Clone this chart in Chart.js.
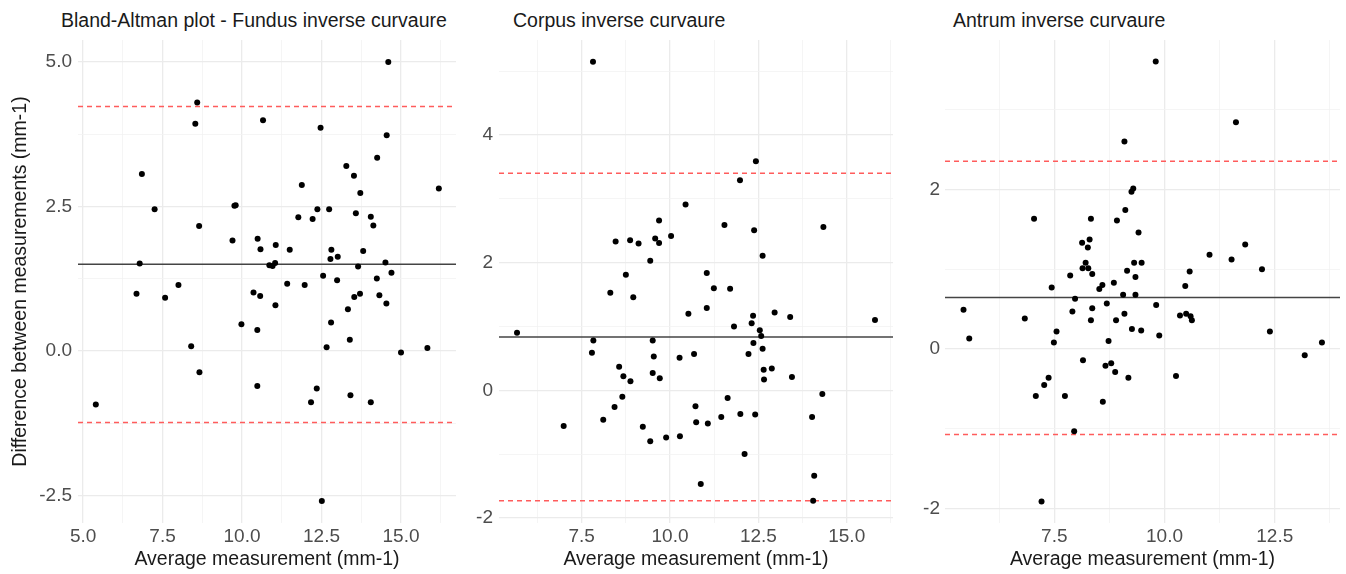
<!DOCTYPE html>
<html>
<head>
<meta charset="utf-8">
<title>Bland-Altman inverse curvature</title>
<script src="https://cdn.jsdelivr.net/npm/chart.js@4.4.1/dist/chart.umd.min.js"></script>
<style>
  body {
    margin: 0;
    background: #fff;
    width: 1346px;
    height: 574px;
    position: relative;
    overflow: hidden;
    font-family: "Liberation Sans", Arial, sans-serif;
  }
  canvas { position: absolute; top: 0; }
  .panel-title {
    position: absolute;
    top: 9px;
    font-size: 19.5px;
    color: #1a1a1a;
    white-space: nowrap;
  }
</style>
</head>
<body>

<div class="panel-title" style="left:61px">Bland-Altman plot - Fundus inverse curvaure</div>
<div class="panel-title" style="left:513px">Corpus inverse curvaure</div>
<div class="panel-title" style="left:953px">Antrum inverse curvaure</div>

<canvas id="fundusChart" width="460" height="574" style="left:0"></canvas>
<canvas id="corpusChart" width="440" height="574" style="left:460px"></canvas>
<canvas id="antrumChart" width="446" height="574" style="left:900px"></canvas>

<script>
// Bland-Altman data (average vs difference, mm-1)

const fundusAvg = [
  14.60, 8.59, 8.53, 10.66, 12.47, 14.55, 14.25, 13.28, 13.52, 6.85,
  11.88, 16.19, 13.72, 7.25, 9.76, 9.80, 12.37, 12.74, 11.77, 12.22,
  13.58, 14.05, 14.13, 8.65, 9.70, 10.49, 10.58, 11.06, 11.50, 12.81,
  13.81, 12.78, 13.01, 6.78, 10.86, 10.96, 11.04, 13.65, 14.51, 14.70,
  12.55, 12.99, 14.24, 8.00, 11.42, 11.97, 6.68, 7.58, 10.36, 10.57,
  11.05, 13.53, 13.71, 14.32, 14.54, 13.33, 9.98, 10.48, 12.80, 13.39,
  8.40, 12.66, 15.00, 15.83, 8.66, 10.48, 12.35, 12.17, 13.41, 14.05,
  5.40, 12.51
];
const fundusDiff = [
  5.00, 4.30, 3.93, 3.99, 3.86, 3.73, 3.34, 3.20, 3.03, 3.06,
  2.87, 2.81, 2.73, 2.45, 2.51, 2.52, 2.45, 2.45, 2.31, 2.28,
  2.38, 2.32, 2.17, 2.16, 1.91, 1.94, 1.76, 1.83, 1.75, 1.75,
  1.73, 1.59, 1.63, 1.51, 1.48, 1.47, 1.52, 1.46, 1.53, 1.35,
  1.30, 1.22, 1.25, 1.14, 1.16, 1.14, 0.99, 0.92, 1.01, 0.95,
  0.79, 0.93, 0.99, 0.96, 0.82, 0.72, 0.46, 0.36, 0.49, 0.19,
  0.08, 0.06, -0.03, 0.05, -0.37, -0.61, -0.65, -0.89, -0.77, -0.89,
  -0.93, -2.60
];
// bias, upper limit, lower limit
const fundusLines = [1.50, 4.23, -1.24];

const corpusAvg = [
  7.82, 12.43, 11.98, 10.44, 9.69, 11.54, 12.38, 14.34, 8.46, 8.87,
  9.11, 9.58, 9.69, 10.03, 9.44, 12.62, 8.75, 11.04, 11.24, 11.70,
  8.31, 8.96, 10.52, 11.04, 12.35, 12.96, 13.40, 15.80, 5.67, 11.81,
  12.31, 12.54, 12.58, 7.83, 9.51, 12.36, 7.79, 12.62, 9.54, 10.27,
  10.68, 12.22, 8.56, 12.88, 12.65, 8.68, 9.51, 9.71, 8.88, 12.66,
  13.45, 8.65, 11.63, 14.31, 8.43, 10.72, 6.99, 8.11, 9.23, 10.74,
  11.07, 11.45, 11.99, 12.41, 14.02, 9.44, 9.89, 10.28, 12.11, 14.08,
  10.87, 14.05
];
const corpusDiff = [
  5.15, 3.59, 3.29, 2.91, 2.66, 2.59, 2.51, 2.56, 2.33, 2.35,
  2.30, 2.38, 2.31, 2.42, 2.03, 2.11, 1.81, 1.84, 1.60, 1.59,
  1.53, 1.46, 1.20, 1.29, 1.17, 1.22, 1.15, 1.10, 0.90, 1.00,
  1.05, 0.94, 0.85, 0.78, 0.78, 0.74, 0.59, 0.65, 0.53, 0.51,
  0.57, 0.57, 0.37, 0.34, 0.32, 0.22, 0.27, 0.19, 0.14, 0.17,
  0.21, -0.10, -0.12, -0.06, -0.26, -0.25, -0.56, -0.46, -0.57, -0.50,
  -0.52, -0.42, -0.37, -0.38, -0.42, -0.80, -0.74, -0.72, -1.00, -1.34,
  -1.47, -1.73
];
const corpusLines = [0.835, 3.40, -1.73];

const antrumAvg = [
  9.80, 11.62, 9.09, 9.25, 9.29, 7.04, 8.33, 8.92, 9.11, 9.41,
  8.13, 8.30, 8.26, 11.83, 11.02, 11.52, 12.21, 8.21, 8.14, 8.27,
  8.36, 9.31, 9.48, 9.15, 9.34, 10.57, 7.86, 8.85, 8.59, 7.44,
  10.47, 8.52, 9.06, 9.34, 7.97, 5.44, 5.57, 6.83, 7.91, 8.36,
  8.69, 9.81, 8.33, 8.90, 9.09, 10.35, 10.49, 10.59, 10.62, 7.55,
  7.49, 9.26, 9.47, 9.88, 8.73, 12.39, 13.57, 13.18, 8.15, 8.66,
  8.79, 8.88, 9.18, 10.26, 7.37, 7.27, 7.08, 7.74, 8.60, 7.95,
  7.21
];
const antrumDiff = [
  3.60, 2.84, 2.60, 1.97, 2.01, 1.63, 1.63, 1.61, 1.74, 1.46,
  1.33, 1.37, 1.27, 1.31, 1.18, 1.12, 1.00, 1.08, 1.01, 1.01,
  0.94, 1.08, 1.08, 0.98, 0.90, 0.97, 0.92, 0.83, 0.80, 0.77,
  0.79, 0.75, 0.68, 0.68, 0.63, 0.49, 0.13, 0.38, 0.47, 0.51,
  0.57, 0.55, 0.36, 0.36, 0.44, 0.42, 0.44, 0.41, 0.36, 0.22,
  0.08, 0.25, 0.23, 0.17, 0.10, 0.22, 0.08, -0.08, -0.14, -0.21,
  -0.18, -0.29, -0.36, -0.34, -0.36, -0.45, -0.59, -0.59, -0.66, -1.03,
  -1.91
];
const antrumLines = [0.645, 2.35, -1.07];

const xTitle = 'Average measurement (mm-1)';
const yTitle = 'Difference between measurements (mm-1)';

const tickFont = { family: '"Liberation Sans", Arial, sans-serif', size: 19 };
const titleFont = { family: '"Liberation Sans", Arial, sans-serif', size: 19.5 };

function isMajor(v, step) {
  const r = v / step;
  return Math.abs(r - Math.round(r)) < 1e-6;
}

function hline(value, s) {
  return [{ x: s.xMin, y: value }, { x: s.xMax, y: value }];
}

function axisGrid(major) {
  return {
    drawTicks: false,
    color: ctx => (ctx.tick && isMajor(ctx.tick.value, major)) ? '#ebebeb' : '#f2f2f2',
    lineWidth: ctx => (ctx.tick && isMajor(ctx.tick.value, major)) ? 1.3 : 0.8
  };
}

function drawPanel(id, avg, diff, lines, s) {
  const points = avg.map((x, i) => ({ x: x, y: diff[i] }));
  const limitStyle = { type: 'line', borderColor: '#ff5c5c', borderDash: [5, 4], borderWidth: 1.5, pointRadius: 0 };

  new Chart(document.getElementById(id), {
    type: 'scatter',
    data: {
      datasets: [
        { data: points, backgroundColor: '#000000', borderWidth: 0, pointRadius: 3 },
        { type: 'line', data: hline(lines[0], s), borderColor: '#444444', borderWidth: 1.5, pointRadius: 0 },
        Object.assign({ data: hline(lines[1], s) }, limitStyle),
        Object.assign({ data: hline(lines[2], s) }, limitStyle)
      ]
    },
    options: {
      responsive: false,
      animation: false,
      events: [],
      layout: { padding: { top: 40, right: s.padRight, bottom: 0, left: 0 } },
      plugins: { legend: { display: false }, tooltip: { enabled: false } },
      scales: {
        x: {
          type: 'linear',
          min: s.xMin,
          max: s.xMax,
          afterFit: scale => { scale.height = 51; },
          border: { display: false },
          grid: axisGrid(2.5),
          ticks: {
            stepSize: 1.25,
            includeBounds: false,
            autoSkip: false,
            maxRotation: 0,
            maxTicksLimit: 100,
            padding: 2,
            color: '#4d4d4d',
            font: tickFont,
            callback: v => isMajor(v, 2.5) ? v.toFixed(1) : ''
          },
          title: { display: true, text: xTitle, color: '#1a1a1a', font: titleFont, padding: { top: 0, bottom: 3 } }
        },
        y: {
          type: 'linear',
          min: s.yMin,
          max: s.yMax,
          afterFit: scale => { scale.width = s.yWidth; },
          border: { display: false },
          grid: axisGrid(s.yMajor),
          ticks: {
            stepSize: s.yMajor / 2,
            includeBounds: false,
            autoSkip: false,
            maxTicksLimit: 100,
            padding: s.yPad,
            color: '#4d4d4d',
            font: tickFont,
            callback: v => isMajor(v, s.yMajor) ? v.toFixed(s.yDigits) : ''
          },
          title: {
            display: s.showYTitle,
            text: yTitle,
            color: '#1a1a1a',
            font: titleFont,
            padding: { top: 8.5, bottom: 0 }
          }
        }
      }
    }
  });
}

drawPanel('fundusChart', fundusAvg, fundusDiff, fundusLines, {
  xMin: 4.84, xMax: 16.73, yMin: -2.98, yMax: 5.38, yMajor: 2.5, yDigits: 1,
  yWidth: 78, yPad: 6, padRight: 4, showYTitle: true
});

drawPanel('corpusChart', corpusAvg, corpusDiff, corpusLines, {
  xMin: 5.16, xMax: 16.31, yMin: -2.08, yMax: 5.49, yMajor: 2, yDigits: 0,
  yWidth: 39, yPad: 6, padRight: 7, showYTitle: false
});

drawPanel('antrumChart', antrumAvg, antrumDiff, antrumLines, {
  xMin: 5.02, xMax: 13.98, yMin: -2.18, yMax: 3.87, yMajor: 2, yDigits: 0,
  yWidth: 45, yPad: 5, padRight: 6, showYTitle: false
});
</script>
</body>
</html>
